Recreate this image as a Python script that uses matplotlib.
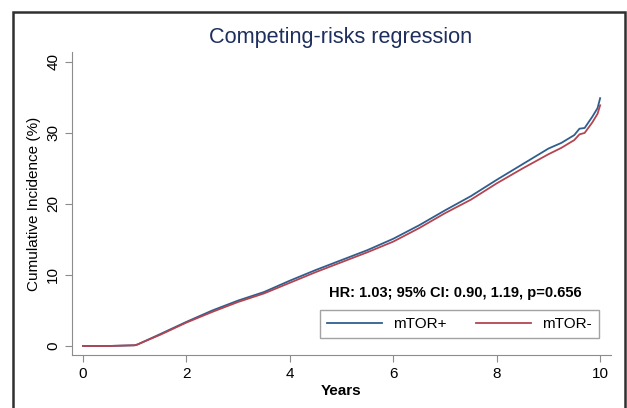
import matplotlib
import matplotlib.pyplot as plt
from matplotlib.patches import Rectangle

matplotlib.use('Agg')
plt.rcParams['font.family'] = ['Liberation Sans', 'DejaVu Sans']

# values (years, cumulative incidence %)
years = [0, 0.5, 1.0, 1.05, 1.5, 2.0, 2.5, 3.0, 3.5, 4.0, 4.5, 5.0, 5.5, 6.0,
         6.5, 7.0, 7.5, 8.0, 8.5, 9.0, 9.25, 9.5, 9.6, 9.7, 9.85, 9.95, 10.0]
mtor_pos = [0, 0, 0.1, 0.2, 1.7, 3.4, 5.0, 6.4, 7.6, 9.2, 10.7, 12.1, 13.5, 15.1,
            17.0, 19.1, 21.1, 23.4, 25.6, 27.8, 28.6, 29.7, 30.6, 30.7, 32.3, 33.5, 34.9]
mtor_neg = [0, 0, 0.1, 0.2, 1.6, 3.3, 4.8, 6.2, 7.4, 8.9, 10.4, 11.8, 13.2, 14.7,
            16.6, 18.7, 20.6, 22.9, 25.0, 27.0, 27.9, 29.0, 29.8, 30.0, 31.5, 32.7, 33.9]
labels = ['mTOR+', 'mTOR-']
colors = ['#2f5f8f', '#b44450']

fig = plt.figure(figsize=(6.27, 4.08), dpi=100)
ax = fig.add_axes([72 / 627, 53 / 408, 539 / 627, 303 / 408])

ax.plot(years, mtor_pos, color=colors[0], lw=1.3, label=labels[0])
ax.plot(years, mtor_neg, color=colors[1], lw=1.3, label=labels[1])

ax.set_xlim(-0.213, 10.21)
ax.set_ylim(-1.27, 41.4)
ax.set_xticks([0, 2, 4, 6, 8, 10])
ax.set_yticks([0, 10, 20, 30, 40])
for s in ['top', 'right']:
    ax.spines[s].set_visible(False)
for s in ['left', 'bottom']:
    ax.spines[s].set_color('#8c8c8c')
ax.tick_params(colors='#8c8c8c', labelcolor='black', labelsize=11, length=5)
for t in ax.get_yticklabels():
    t.set_rotation(90)
    t.set_va('center')

ax.set_xlabel('Years', fontsize=11, fontweight='bold', labelpad=2)
ax.set_ylabel('Cumulative Incidence (%)', fontsize=11, labelpad=4)

fig.text(341 / 627, 1 - 37 / 408, 'Competing-risks regression', ha='center',
         va='center', fontsize=15.6, color='#1e2f5e')
fig.text(455 / 627, 1 - 293 / 408, 'HR: 1.03; 95% CI: 0.90, 1.19, p=0.656',
         ha='center', va='center', fontsize=10.5, fontweight='bold')

leg = fig.legend(loc='center', ncol=2, fontsize=11,
                 bbox_to_anchor=(459.5 / 627, 1 - 324 / 408),
                 handlelength=3.6, fancybox=False, borderaxespad=0,
                 borderpad=0.45, columnspacing=1.95, handletextpad=0.7)
leg.get_frame().set_edgecolor('#8c8c8c')
leg.get_frame().set_linewidth(1.0)

fig.patches.append(Rectangle((13 / 627, -0.05), 612 / 627, 1.05 - 12 / 408,
                             transform=fig.transFigure, fill=False,
                             edgecolor='#303030', lw=1.8))

fig.savefig('out.png', dpi=100)
